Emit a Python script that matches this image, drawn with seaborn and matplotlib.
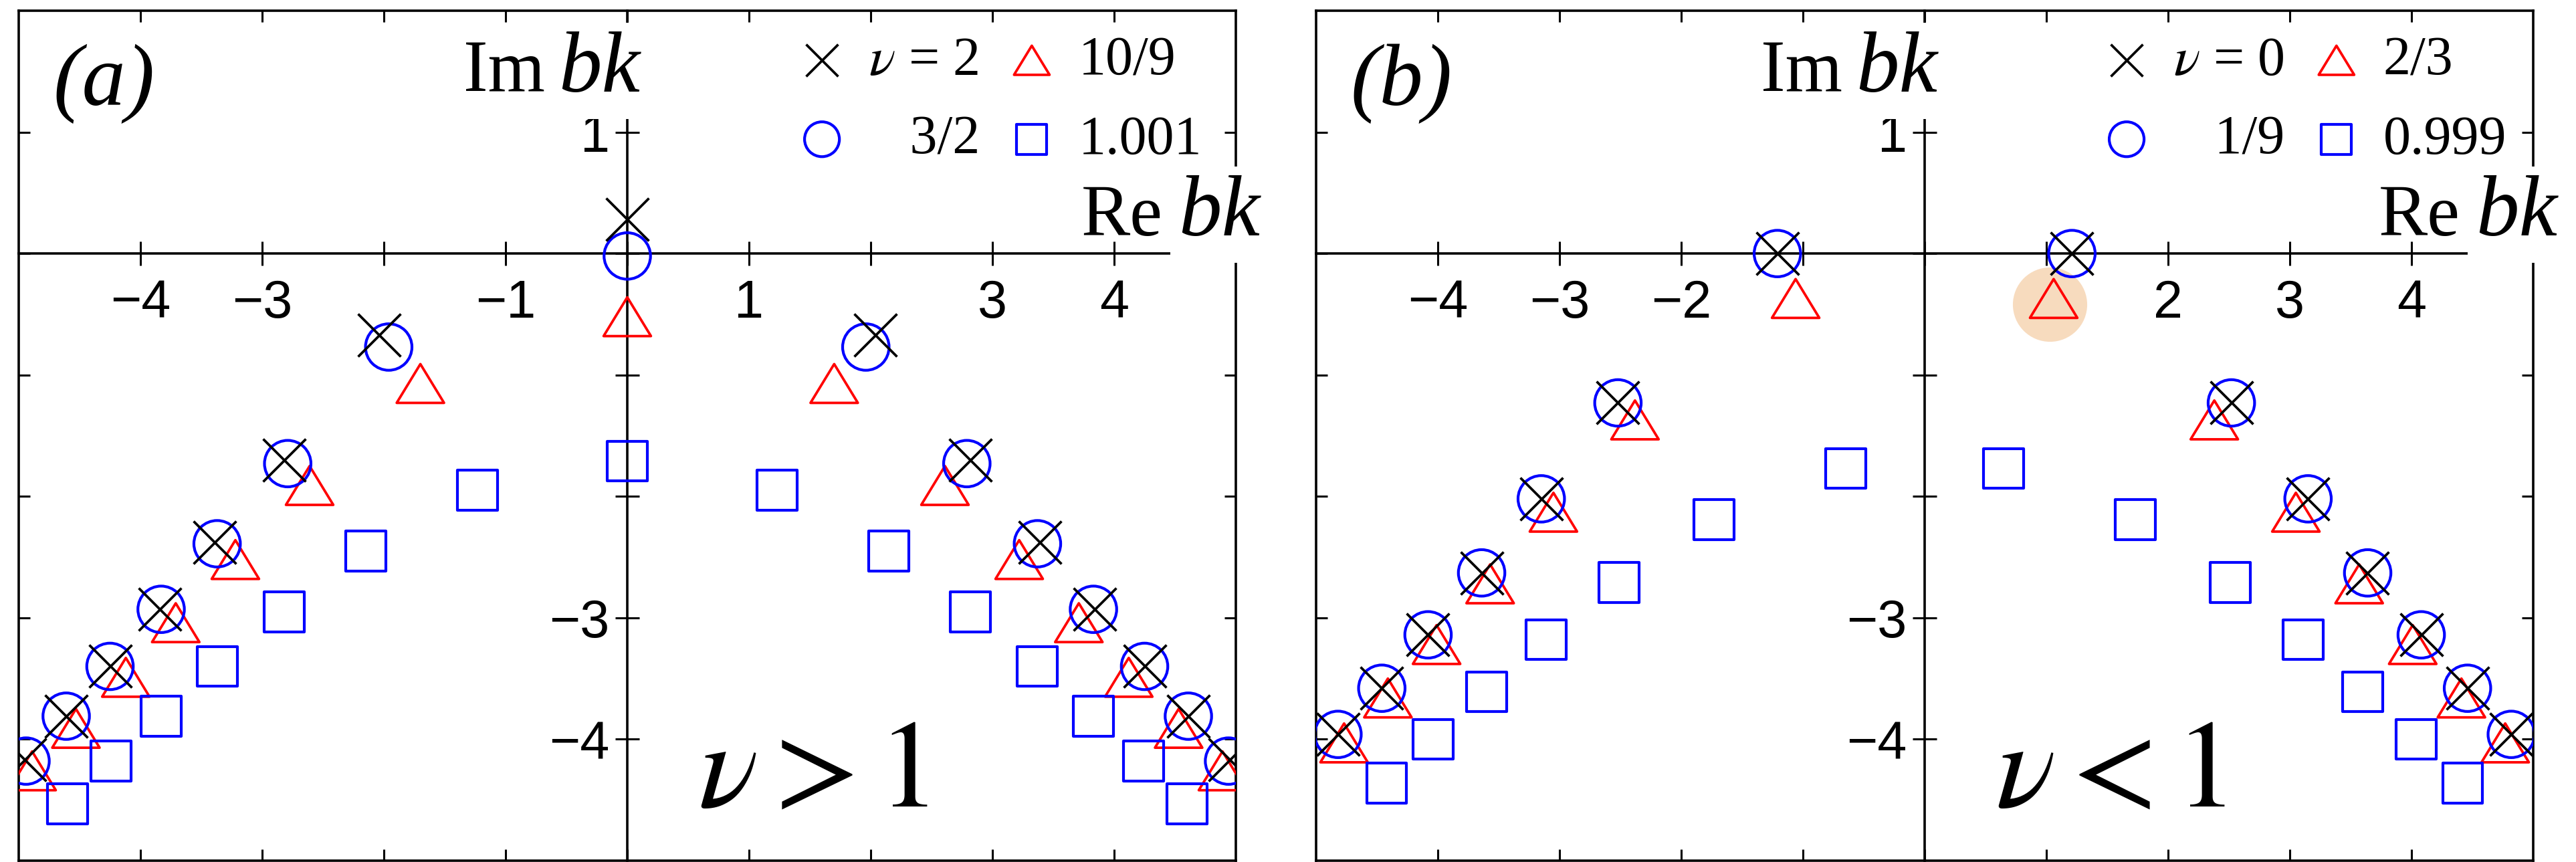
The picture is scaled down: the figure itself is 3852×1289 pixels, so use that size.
import matplotlib
matplotlib.use("Agg")
import matplotlib.pyplot as plt
from matplotlib.path import Path
import pandas as pd
import seaborn as sns

# ---------------- data ----------------
# Panel (a): nu > 1
a_nu2_x = [0.00, -2.04, 2.04, -2.82, 2.82, -3.39, 3.39, -3.84, 3.84, -4.25, 4.25, -4.61, 4.61, -4.95, 4.95]
a_nu2_y = [0.28, -0.67, -0.67, -1.70, -1.70, -2.38, -2.38, -2.93, -2.93, -3.40, -3.40, -3.81, -3.81, -4.17, -4.17]
a_nu32_x = [0.00, -1.96, 1.96, -2.79, 2.79, -3.37, 3.37, -3.83, 3.83, -4.25, 4.25, -4.61, 4.61, -4.94, 4.94]
a_nu32_y = [-0.02, -0.77, -0.77, -1.73, -1.73, -2.39, -2.39, -2.93, -2.93, -3.40, -3.40, -3.81, -3.81, -4.18, -4.18]
a_nu109_x = [0.00, -1.70, 1.70, -2.61, 2.61, -3.22, 3.22, -3.71, 3.71, -4.12, 4.12, -4.53, 4.53, -4.89, 4.89]
a_nu109_y = [-0.52, -1.07, -1.07, -1.91, -1.91, -2.52, -2.52, -3.04, -3.04, -3.49, -3.49, -3.91, -3.91, -4.26, -4.26]
a_nu1001_x = [0.00, -1.23, 1.23, -2.15, 2.15, -2.82, 2.82, -3.37, 3.37, -3.83, 3.83, -4.24, 4.24, -4.60, 4.60]
a_nu1001_y = [-1.71, -1.95, -1.95, -2.45, -2.45, -2.95, -2.95, -3.40, -3.40, -3.81, -3.81, -4.18, -4.18, -4.53, -4.53]

# Panel (b): nu < 1
b_nu0_x = [-1.21, 1.21, -2.52, 2.52, -3.15, 3.15, -3.64, 3.64, -4.08, 4.08, -4.46, 4.46, -4.82, 4.82]
b_nu0_y = [0.00, 0.00, -1.23, -1.23, -2.02, -2.02, -2.63, -2.63, -3.14, -3.14, -3.58, -3.58, -3.96, -3.96]
b_nu19_x = [-1.21, 1.21, -2.52, 2.52, -3.15, 3.15, -3.64, 3.64, -4.08, 4.08, -4.46, 4.46, -4.82, 4.82]
b_nu19_y = [0.00, 0.00, -1.23, -1.23, -2.02, -2.02, -2.63, -2.63, -3.14, -3.14, -3.58, -3.58, -3.96, -3.96]
b_nu23_x = [-1.06, 1.06, -2.38, 2.38, -3.05, 3.05, -3.57, 3.57, -4.01, 4.01, -4.41, 4.41, -4.77, 4.77]
b_nu23_y = [-0.37, -0.37, -1.37, -1.37, -2.13, -2.13, -2.72, -2.72, -3.22, -3.22, -3.66, -3.66, -4.03, -4.03]
b_nu0999_x = [-0.65, 0.65, -1.73, 1.73, -2.51, 2.51, -3.11, 3.11, -3.60, 3.60, -4.04, 4.04, -4.42, 4.42]
b_nu0999_y = [-1.77, -1.77, -2.19, -2.19, -2.71, -2.71, -3.18, -3.18, -3.61, -3.61, -4.00, -4.00, -4.36, -4.36]

# highlighted point in panel (b)
b_highlight_x = [1.03]
b_highlight_y = [-0.42]

# labels
a_legend_labels = [r"$\nu$ = 2", "   3/2", "10/9", "1.001"]
b_legend_labels = [r"$\nu$ = 0", "   1/9", "2/3", "0.999"]
panel_tags = ["(a)", "(b)"]
regime_labels = [r"$\nu > 1$", r"$\nu < 1$"]
xtick_values = [-4, -3, -2, -1, 0, 1, 2, 3, 4]
ytick_values = [-4, -3, -2, -1, 0, 1]
a_xticklabels = ["\u22124", "\u22123", "", "\u22121", "", "1", "", "3", "4"]
b_xticklabels = ["\u22124", "\u22123", "\u22122", "", "", "", "2", "3", "4"]
yticklabels = ["\u22124", "\u22123", "", "", "", "1"]

# ---------------- style ----------------
SERIF = "Liberation Serif"
SANS = "Liberation Sans"
sns.set_theme(style="white")
plt.rcParams.update({
    "font.family": [SANS, "DejaVu Sans"],
    "mathtext.fontset": "stix",
    "text.color": "black",
    "axes.edgecolor": "black",
    "axes.labelcolor": "black",
    "xtick.color": "black",
    "ytick.color": "black",
    "axes.unicode_minus": True,
})

W, H = 3852, 1289
fig = plt.figure(figsize=(W / 100, H / 100), dpi=100)
fig.patch.set_facecolor("white")

TRI = Path([(0, 0.82), (-1, -0.82), (1, -0.82), (0, 0.82)], closed=True)

BLACK, BLUE, RED = "#000000", "#0000ff", "#ff0000"


def make_df(x, y):
    return pd.DataFrame({"x": x, "y": y})


panels = [
    dict(rect=(28 / W, 2 / H, 1820 / W, 1271 / H),
         series=[(a_nu2_x, a_nu2_y), (a_nu32_x, a_nu32_y), (a_nu109_x, a_nu109_y), (a_nu1001_x, a_nu1001_y)],
         legend=a_legend_labels, xticklabels=a_xticklabels, tag=panel_tags[0], regime=regime_labels[0],
         highlight=None, anchor=(0.972, 0.970)),
    dict(rect=(1968 / W, 2 / H, 1820 / W, 1271 / H),
         series=[(b_nu0_x, b_nu0_y), (b_nu19_x, b_nu19_y), (b_nu23_x, b_nu23_y), (b_nu0999_x, b_nu0999_y)],
         legend=b_legend_labels, xticklabels=b_xticklabels, tag=panel_tags[1], regime=regime_labels[1],
         highlight=(b_highlight_x, b_highlight_y), anchor=(0.978, 0.970)),
]

for P in panels:
    # frame axes: box with inward ticks on all sides
    axF = fig.add_axes(P["rect"])
    axF.set_xlim(-5, 5)
    axF.set_ylim(-5, 2)
    axF.set_facecolor("white")
    for sp in axF.spines.values():
        sp.set_visible(True)
        sp.set_linewidth(2.6)
        sp.set_color("black")
    axF.set_xticks(xtick_values)
    axF.set_yticks(ytick_values)
    axF.tick_params(direction="in", length=12, width=2.2, top=True, right=True,
                    bottom=True, left=True, labelbottom=False, labelleft=False)

    # centred axes with data
    ax = fig.add_axes(P["rect"])
    ax.set_facecolor("none")
    ax.set_xlim(-5, 5)
    ax.set_ylim(-5, 2)
    ax.spines["left"].set_position(("data", 0))
    ax.spines["bottom"].set_position(("data", 0))
    ax.spines["top"].set_visible(False)
    ax.spines["right"].set_visible(False)
    for k in ("left", "bottom"):
        ax.spines[k].set_linewidth(2.6)
        ax.spines[k].set_color("black")
    ax.set_xticks(xtick_values, labels=P["xticklabels"])
    ax.set_yticks(ytick_values, labels=yticklabels)
    ax.tick_params(direction="inout", length=26, width=2.2, bottom=True, left=True,
                   top=False, right=False, labelsize=57)
    ax.tick_params(axis="x", pad=14)
    ax.tick_params(axis="y", pad=6)

    if P["highlight"] is not None:
        hx, hy = P["highlight"]
        sns.scatterplot(data=make_df(hx, hy), x="x", y="y", ax=ax, marker="o", s=80 ** 2,
                        color="#f5cda5", alpha=0.72, linewidth=0, zorder=1, legend=False)

    (x1, y1), (x2, y2), (x3, y3), (x4, y4) = P["series"]
    sns.scatterplot(data=make_df(x1, y1), x="x", y="y", ax=ax, marker="x", s=46 ** 2,
                    color=BLACK, linewidth=2.7, zorder=3.2, legend=False)
    h1 = ax.collections[-1]
    sns.scatterplot(data=make_df(x2, y2), x="x", y="y", ax=ax, marker="o", s=50 ** 2,
                    color=BLUE, facecolor="none", edgecolor=BLUE, linewidth=3.0, zorder=3.1, legend=False)
    h2 = ax.collections[-1]
    sns.scatterplot(data=make_df(x3, y3), x="x", y="y", ax=ax, marker=TRI, s=51 ** 2,
                    color=RED, facecolor="none", edgecolor=RED, linewidth=2.7, zorder=3.0, legend=False)
    h3 = ax.collections[-1]
    sns.scatterplot(data=make_df(x4, y4), x="x", y="y", ax=ax, marker="s", s=43 ** 2,
                    color=BLUE, facecolor="none", edgecolor=BLUE, linewidth=3.0, zorder=3.0, legend=False)
    h4 = ax.collections[-1]
    ax.set_xlabel("")
    ax.set_ylabel("")

    leg = ax.legend([h1, h2, h3, h4], P["legend"], ncol=2, loc="upper right",
                    bbox_to_anchor=P["anchor"], frameon=False,
                    prop={"family": SERIF, "size": 59}, markerscale=0.75,
                    handlelength=1.0, handletextpad=0.35, columnspacing=0.45,
                    labelspacing=0.52, borderpad=0, borderaxespad=0)
    leg.set_zorder(6)

    # axis captions
    ax.text(-0.676, 1.334, "Im", family=SERIF, fontsize=79, ha="right", va="baseline", zorder=5)
    ax.text(-0.566, 1.334, "bk", family=SERIF, style="italic", fontsize=93, ha="left",
            va="baseline", zorder=5,
            bbox=dict(boxstyle="square,pad=0.1", fc="white", ec="none"))
    ax.text(4.40, 0.15, "Re", family=SERIF, fontsize=79, ha="right", va="baseline", zorder=5)
    ax.text(4.53, 0.15, "bk", family=SERIF, style="italic", fontsize=93, ha="left",
            va="baseline", zorder=5,
            bbox=dict(boxstyle="square,pad=0.1", fc="white", ec="none"))

    ax.text(-4.72, 1.224, P["tag"], family=SERIF, style="italic", fontsize=94,
            ha="left", va="baseline", zorder=5)
    ax.text(1.53, -4.55, P["regime"], fontsize=134, ha="center", va="baseline", zorder=5)

fig.savefig("out.png", dpi=100, facecolor="white")
